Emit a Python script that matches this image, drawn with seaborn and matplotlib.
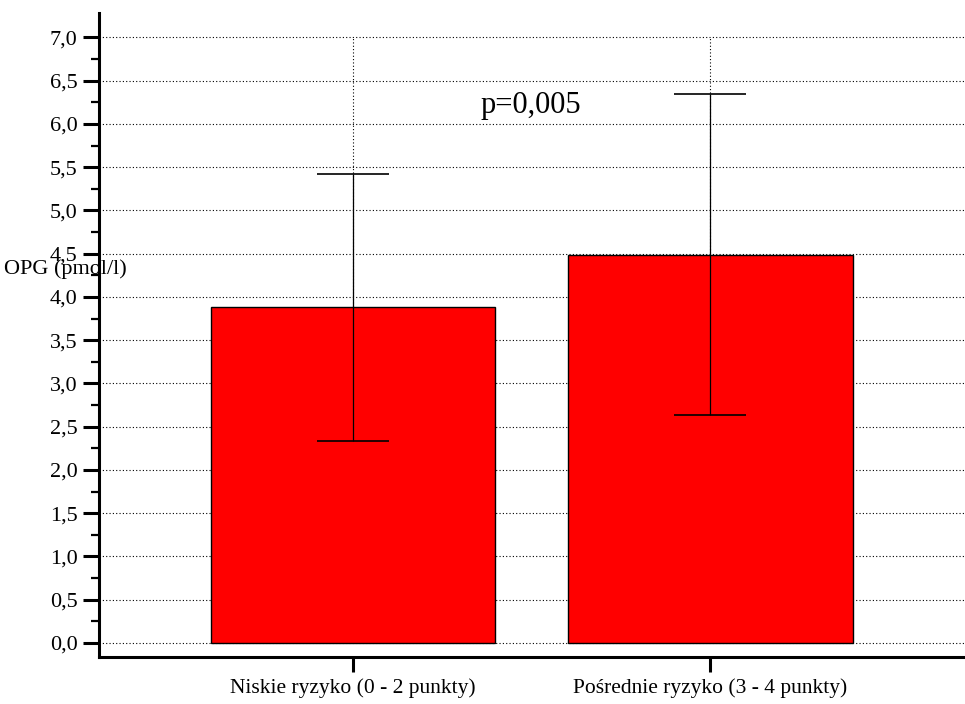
import numpy as np
import pandas as pd
import seaborn as sns
import matplotlib
matplotlib.use("Agg")
import matplotlib.pyplot as plt
from matplotlib.ticker import FixedLocator, FuncFormatter

# Mean OPG concentration with standard deviation per risk group
categories = ["Niskie ryzyko (0 - 2 punkty)", "Pośrednie ryzyko (3 - 4 punkty)"]
means = [3.88, 4.49]
sds = [1.54, 1.86]
y_major = [0.0, 0.5, 1.0, 1.5, 2.0, 2.5, 3.0, 3.5, 4.0, 4.5, 5.0, 5.5, 6.0, 6.5, 7.0]
y_minor = [0.25, 0.75, 1.25, 1.75, 2.25, 2.75, 3.25, 3.75, 4.25, 4.75, 5.25, 5.75, 6.25, 6.75]
y_label = "OPG (pmol/l)"
p_label = "p=0,005"

df = pd.DataFrame({"grupa": categories, "OPG": means, "SD": sds})

sns.set_style("ticks")
plt.rcParams["font.family"] = ["Liberation Serif", "DejaVu Serif"]
plt.rcParams["text.color"] = "black"

W, H = 965, 704
fig = plt.figure(figsize=(W / 100, H / 100), dpi=100)
ax = fig.add_axes([99 / W, 47 / H, 1 - 99 / W, (657 - 13) / H])

sns.barplot(data=df, x="grupa", y="OPG", color="#ff0000", saturation=1,
            width=0.795, edgecolor="black", linewidth=1.0, errorbar=None,
            ax=ax, zorder=2)

xpos = np.arange(len(categories))
ax.errorbar(xpos, df["OPG"], yerr=df["SD"], fmt="none", ecolor="black",
            elinewidth=0.9, capsize=26, capthick=1.2, zorder=3)

# dotted reference lines
grid_style = dict(color="black", linewidth=0.8, linestyle=(0, (1, 2)))
ax.set_axisbelow(True)
ax.yaxis.grid(True, which="major", **grid_style)
ax.xaxis.grid(False)
ax.vlines(xpos, y_major[0], y_major[-1], zorder=0.5, **grid_style)

ax.set_ylim(-0.162, 7.283)
ax.set_xlim(-0.7105, 1.712)

ax.yaxis.set_major_locator(FixedLocator(y_major))
ax.yaxis.set_minor_locator(FixedLocator(y_minor))
ax.yaxis.set_major_formatter(FuncFormatter(lambda v, _: f"{v:.1f}".replace(".", ",")))

ax.tick_params(axis="y", which="major", length=11.5, width=2.2, direction="out",
               labelsize=16, pad=4, color="black", labelcolor="black")
ax.tick_params(axis="y", which="minor", length=5.8, width=1.6, direction="out",
               color="black")
ax.tick_params(axis="x", which="major", length=11, width=2.2, direction="out",
               labelsize=15.5, pad=4, color="black", labelcolor="black")

for side in ("top", "right"):
    ax.spines[side].set_visible(False)
for side in ("left", "bottom"):
    ax.spines[side].set_linewidth(2.2)
    ax.spines[side].set_color("black")

ax.set_xlabel("")
ax.set_ylabel(y_label, rotation=0, fontsize=16, ha="left", va="center",
              color="black")
ax.yaxis.set_label_coords(4 / W, 1 - 269 / H, transform=fig.transFigure)

ax.text(0.358, 6.13, p_label, fontsize=22, ha="left", va="baseline",
        color="black", zorder=4)

fig.savefig("out.png", dpi=100)
